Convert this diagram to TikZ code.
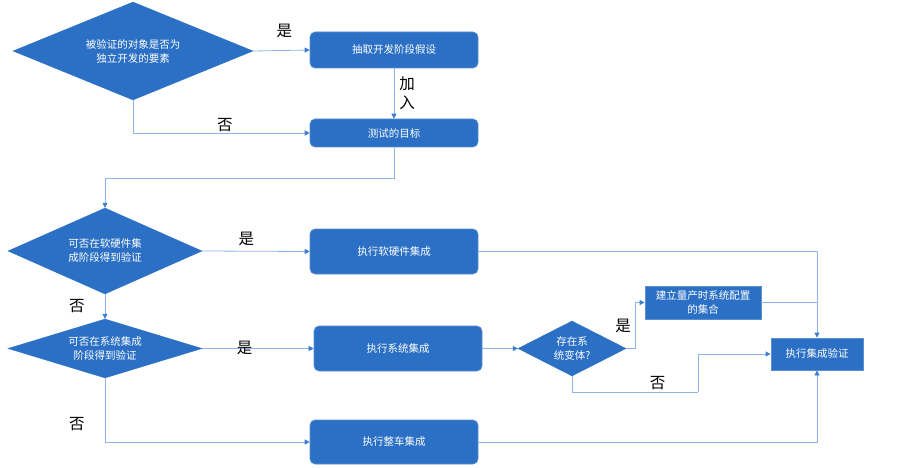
\documentclass[tikz,border=0pt]{standalone}
\usepackage{fontspec}
\setmainfont{Noto Sans CJK SC}
\usetikzlibrary{arrows.meta, positioning, shapes.geometric}

\definecolor{flowblue}{HTML}{2B70C4}
\definecolor{edgeblue}{HTML}{5A8FD2}
\definecolor{lineblue}{HTML}{8DB6E8}
\definecolor{tipblue}{HTML}{3C7DD0}

\begin{document}
\begin{tikzpicture}[
            x=1pt, y=-1pt,
            >={Triangle[length=5pt, width=5pt, color=tipblue]},
            decision/.style={
                diamond,
                fill=flowblue,
                draw=flowblue,
                inner sep=0pt,
                align=center,
                text=white,
                font=\fontsize{10.5}{14}\selectfont
            },
            process/.style={
                rectangle,
                rounded corners=5pt,
                fill=flowblue,
                draw=edgeblue,
                line width=0.6pt,
                minimum width=168pt,
                minimum height=36pt,
                align=center,
                text=white,
                font=\fontsize{10.5}{14}\selectfont
            },
            plainbox/.style={
                rectangle,
                fill=flowblue,
                draw=edgeblue,
                line width=0.8pt,
                align=center,
                text=white,
                font=\fontsize{10.5}{14}\selectfont
            },
            flow/.style={->, draw=lineblue, line width=0.8pt},
            link/.style={draw=lineblue, line width=0.8pt},
            tag/.style={font=\fontsize{15.5}{19}\selectfont, inner sep=1pt, align=center}
        ]
            \useasboundingbox (0,0) rectangle (903,468);

            % Primeira decisao
            \node [decision, minimum width=240pt, minimum height=98pt, aspect=2.45]
                (dObject) at (133,51) {被验证的对象是否为\\独立开发的要素};
            \node [process] (pExtract) at (394,50) {抽取开发阶段假设};
            \node [process, minimum height=28pt] (pTarget) at (394,133) {测试的目标};

            \draw [flow] (dObject.east) -- (pExtract.west)
                node [pos=0.55, above=11pt, tag] (lblYesA) {是};
            \draw [flow] (pExtract) -- (pTarget)
                node [midway, right=4pt, tag] (lblJoin) {加\\入};
            \draw [flow] (dObject.south) |- (pTarget.west)
                node [pos=0.76, above=0pt, tag] (lblNoA) {否};

            % Decisoes de integracao
            \node [decision, minimum width=194pt, minimum height=86pt, aspect=2.25]
                (dHwSw) at (105,251) {可否在软硬件集\\成阶段得到验证};
            \node [process, minimum height=45pt] (pHwSw) at (394,251.5) {执行软硬件集成};
            \node [decision, minimum width=194pt, minimum height=59pt, aspect=3.3]
                (dSys) at (105,348.5) {可否在系统集成\\阶段得到验证};
            \node [process, minimum height=45pt] (pSys) at (398,348.5) {执行系统集成};
            \node [process, minimum height=44pt] (pVeh) at (394,442) {执行整车集成};

            \draw [flow] (pTarget.south) -- ++(0,31) -| (dHwSw.north);
            \draw [flow] (dHwSw.east) -- (pHwSw.west)
                node [pos=0.41, above=4pt, tag] (lblYesB) {是};
            \draw [flow] (dHwSw.south) -- (dSys.north)
                node [midway, left=19pt, tag] (lblNoB) {否};
            \draw [flow] (dSys.east) -- (pSys.west)
                node [pos=0.38, below=-9pt, tag] (lblYesC) {是};
            \draw [flow] (dSys.south) |- (pVeh.west)
                node [pos=0.36, left=19pt, tag] (lblNoC) {否};

            % Variantes e verificacao
            \node [decision, minimum width=108pt, minimum height=55pt, aspect=2]
                (dVar) at (572,348.5) {存在系\\统变体?};
            \node [plainbox, minimum width=116pt, minimum height=33pt]
                (pConfig) at (703,302.5) {建立量产时系统配置\\的集合};
            \node [plainbox, minimum width=92pt, minimum height=32pt]
                (pVerify) at (817,354) {执行集成验证};
            \coordinate (bendVar) at (698,392);

            \draw [flow] (pSys.east) -- (dVar.west);
            \draw [flow] (dVar.east) -- ++(9,0) |- (pConfig.west)
                node [pos=0.25, left=3pt, tag] (lblYesD) {是};
            \draw [link] (dVar.south) |- (bendVar)
                node [pos=0.84, above=1pt, tag] (lblNoD) {否};
            \draw [flow] (bendVar) |- (pVerify.west);
            \draw [flow] (pHwSw.east) -| (pVerify.north);
            \draw [link] (pConfig.east) -- (pConfig.east -| pVerify.north);
            \draw [flow] (pVeh.east) -| (pVerify.south);
        \end{tikzpicture}
\end{document}
